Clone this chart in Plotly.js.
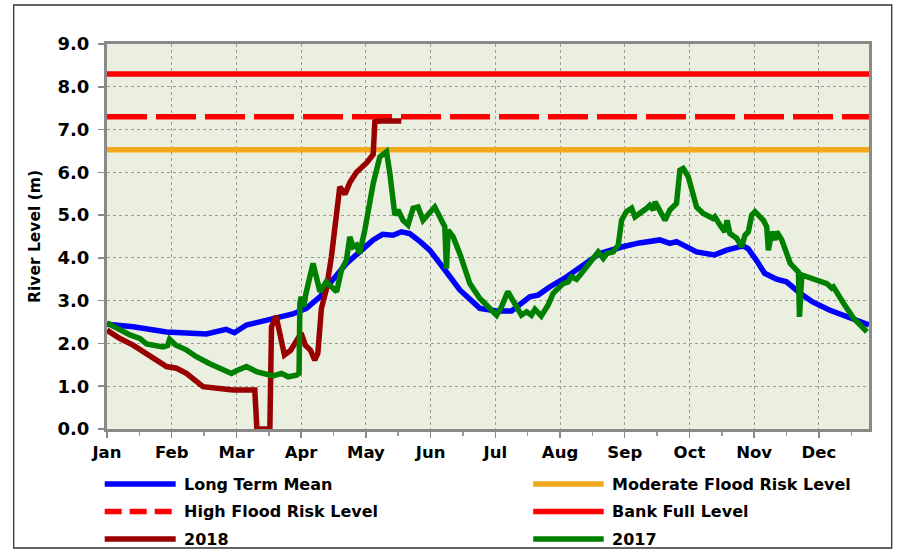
<!DOCTYPE html>
<html>
<head>
<meta charset="utf-8">
<script src="https://cdn.plot.ly/plotly-3.0.1.min.js"></script>
<style>html,body{margin:0;padding:0;background:#fff;}#chart{width:903px;height:551px;}</style>
</head>
<body>
<div id="chart"></div>
<script>
// ---- data (day of year, river level in m) ----
const monthLabels = ['Jan','Feb','Mar','Apr','May','Jun','Jul','Aug','Sep','Oct','Nov','Dec'];
const monthTickDays = [0,31,62,93,124,155,186,217,248,279,310,341];
const minorTickDays = [15.5,46.5,77.5,108.5,139.5,170.5,201.5,232.5,263.5,294.5,325.5,356.5];

const meanDays  = [0,12.5,28.5,44.4,47.6,57,61,66.8,76,81,89,95.5,102,108,114.7,121,127.5,132,137,141,145,150,154.6,162.6,169,178.6,186.6,193.8,202.5,206.5,212,219,226.5,236,247,255,264.8,269.6,272.8,282.4,291,296.8,304.7,307,311,315,320.7,325.5,332,338,346,354,365];
const meanLevel = [2.45,2.39,2.27,2.24,2.22,2.33,2.25,2.43,2.55,2.60,2.69,2.82,3.09,3.48,3.87,4.14,4.42,4.55,4.53,4.61,4.57,4.38,4.18,3.67,3.25,2.82,2.76,2.76,3.09,3.13,3.32,3.52,3.79,4.10,4.26,4.35,4.42,4.34,4.38,4.14,4.07,4.18,4.28,4.22,3.95,3.64,3.50,3.44,3.17,2.97,2.78,2.62,2.43];

const y2018Days  = [0,6,12.5,20.5,23.7,28.5,33.3,38,46,57,60.4,70.8,71.8,78,78.8,81,85,88,93,95,97.5,99.5,101,102.7,105,107.5,111.5,114,116.3,119.5,124.3,127.5,128.3,130.7,141];
const y2018Level = [2.31,2.12,1.96,1.73,1.61,1.46,1.42,1.30,0.99,0.93,0.91,0.91,0.0,0.0,2.39,2.64,1.73,1.84,2.24,1.96,1.84,1.61,1.77,2.82,3.25,4.03,5.66,5.49,5.76,6.00,6.22,6.42,7.18,7.20,7.20];

const y2017Days  = [0,6,11,15.7,18.9,26.8,29,30,33,38,42.8,49,54,59.6,62,66.8,71.6,79.5,83.6,86.8,90.8,92,92.4,93,94.3,95.2,98.7,102,105,108,110,112.3,114.7,116.3,117.9,119.5,121,123.5,125,127.5,130.7,133.9,135.5,137.9,139.4,141.8,144.2,146.6,149,151.4,157,160.2,161.8,162.6,163.4,165.8,169,173.8,178.6,186.6,189,192,195.3,198.5,201,203.3,205,208,211.3,213.7,218.5,220.9,222.5,224.9,227.3,231.3,235.3,237.7,239.3,242.5,244.9,246.5,248.8,251.3,252.9,258.5,260,261.7,262.5,267.3,269.6,272.8,274.4,276,278.4,282.4,285.6,290.4,291.2,293.6,296,297,298.4,301.6,304,305.6,307.2,308.8,310.4,314.4,316,316.8,318.4,320,320.8,323.2,327.3,331.2,331.7,332.8,340,344.8,347.2,348,352.8,357.6,364];
const y2017Level = [2.48,2.31,2.20,2.12,1.99,1.92,1.95,2.10,1.96,1.85,1.69,1.53,1.42,1.30,1.36,1.46,1.34,1.24,1.30,1.22,1.26,1.30,2.94,3.09,2.86,3.15,3.87,3.21,3.44,3.32,3.21,3.72,3.95,4.49,4.26,4.30,4.10,4.65,5.04,5.74,6.36,6.48,5.97,5.00,5.12,4.88,4.77,5.16,5.19,4.88,5.19,4.84,4.73,3.75,4.65,4.49,4.10,3.40,3.05,2.66,2.86,3.21,2.90,2.66,2.74,2.66,2.80,2.64,2.90,3.17,3.40,3.44,3.56,3.50,3.64,3.91,4.14,3.99,4.10,4.14,4.30,4.88,5.08,5.16,4.96,5.16,5.23,5.12,5.31,4.88,5.12,5.27,6.05,6.09,5.90,5.19,5.04,4.92,4.96,4.77,4.61,4.88,4.57,4.46,4.26,4.53,4.61,5.00,5.08,4.88,4.73,4.18,4.61,4.42,4.61,4.42,3.87,3.67,2.62,3.60,3.48,3.40,3.29,3.32,2.94,2.59,2.27];

const levelDays = [0, 365];
const moderateFloodLevel = 6.53;
const highFloodLevel = 7.3;
const bankFullLevel = 8.3;

const seriesNames = ['Long Term Mean','Moderate Flood Risk Level','High Flood Risk Level','Bank Full Level','2018','2017'];
const seriesColors = ['#0000FF','#F2A81D','#FF0000','#FF0000','#990000','#008000'];

// ---- layout helpers (pixel -> paper) ----
const PL = 107.3, PR = 869.3, PT = 44, PB = 429;
const px = v => (v - PL) / (PR - PL);
const py = v => (PB - v) / (PB - PT);

const FONT = 'DejaVu Sans';
const W = 5.5;

const traces = [
  {x: meanDays, y: meanLevel},
  {x: levelDays, y: [moderateFloodLevel, moderateFloodLevel]},
  {x: levelDays, y: [highFloodLevel, highFloodLevel], dash: '40px,9px'},
  {x: levelDays, y: [bankFullLevel, bankFullLevel]},
  {x: y2018Days, y: y2018Level},
  {x: y2017Days, y: y2017Level}
].map((t, i) => ({
  type: 'scatter', mode: 'lines', name: seriesNames[i],
  x: t.x, y: t.y, showlegend: false, hoverinfo: 'skip',
  line: {color: seriesColors[i], width: W, dash: t.dash || 'solid'}
}));

// manual legend (two columns)
const rowsPx = [484, 511.5, 539];
const cols = [{l0: 105, l1: 176, t: 182}, {l0: 533.5, l1: 604, t: 610}];
const shapes = [];
const annotations = [];
seriesNames.forEach((nm, i) => {
  const c = cols[i % 2];
  const r = rowsPx[Math.floor(i / 2)];
  shapes.push({type: 'line', xref: 'paper', yref: 'paper',
    x0: px(c.l0), x1: px(c.l1), y0: py(r), y1: py(r),
    line: {color: seriesColors[i], width: W, dash: i === 2 ? '17px,8px' : 'solid'}});
  annotations.push({xref: 'paper', yref: 'paper', x: px(c.t), y: py(r),
    xanchor: 'left', yanchor: 'middle', showarrow: false, text: nm,
    font: {family: FONT, size: 16, color: '#000', weight: 'bold'}});
});
// outer chart frame
shapes.push({type: 'rect', xref: 'paper', yref: 'paper', layer: 'below',
  x0: px(14), x1: px(892), y0: py(548), y1: py(5),
  line: {color: '#333', width: 1.3}, fillcolor: 'rgba(0,0,0,0)'});

const layout = {
  width: 903, height: 551,
  margin: {l: 107, r: 34, t: 44, b: 122},
  paper_bgcolor: '#fff', plot_bgcolor: '#EBEFDF',
  showlegend: false,
  xaxis: {
    range: [0, 365], tickmode: 'array', tickvals: monthTickDays, ticktext: monthLabels,
    showgrid: true, gridcolor: '#9a9a9a', griddash: 'dot', gridwidth: 1,
    zeroline: false, showline: true, mirror: true, linecolor: '#8a8a8a', linewidth: 3,
    ticks: 'outside', ticklen: 6, tickwidth: 1.5, tickcolor: '#8a8a8a',
    minor: {tickmode: 'array', tickvals: minorTickDays, ticks: 'outside', ticklen: 4, tickcolor: '#9a9a9a', showgrid: false},
    tickfont: {family: FONT, size: 16.5, color: '#000', weight: 'bold'}
  },
  yaxis: {
    range: [0, 9], dtick: 1, tickformat: '.1f',
    showgrid: true, gridcolor: '#9a9a9a', griddash: 'dot', gridwidth: 1,
    zeroline: false, showline: true, mirror: true, linecolor: '#8a8a8a', linewidth: 3,
    ticks: 'outside', ticklen: 6, tickwidth: 1.5, tickcolor: '#8a8a8a',
    ticklabelstandoff: 5,
    tickfont: {family: FONT, size: 18, color: '#000', weight: 'bold'},
    title: {text: 'River Level (m)', standoff: 14, font: {family: FONT, size: 15.5, color: '#000', weight: 'bold'}}
  },
  shapes: shapes,
  annotations: annotations
};

Plotly.newPlot('chart', traces, layout, {displayModeBar: false, staticPlot: true});
</script>
</body>
</html>
